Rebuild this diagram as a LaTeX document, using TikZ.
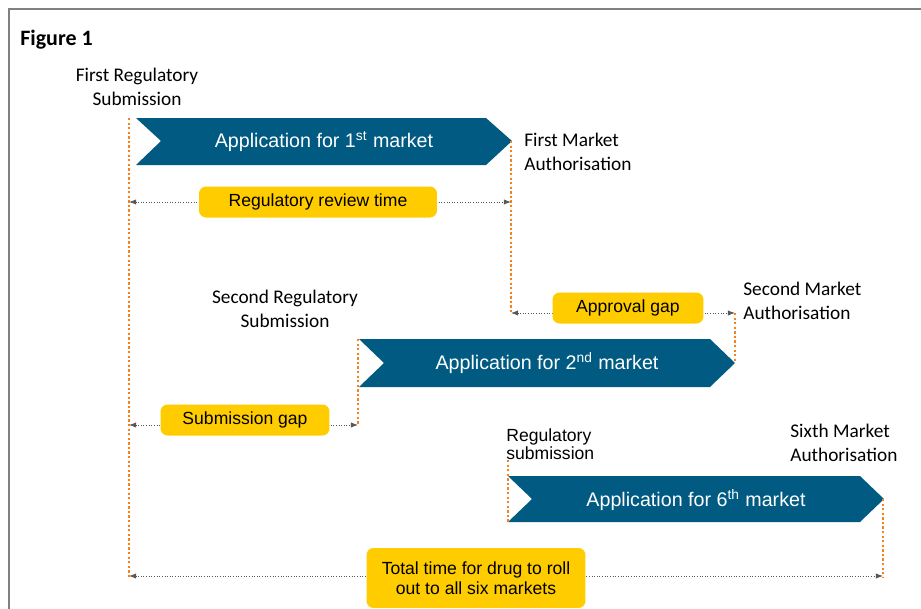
\documentclass[tikz,border=0pt]{standalone}
\usepackage{fontspec}
\setmainfont{Carlito}
\newfontfamily\arialfont{Liberation Sans}
\usetikzlibrary{arrows.meta}

\definecolor{appblue}{RGB}{0,90,130}
\definecolor{gapyellow}{RGB}{255,204,0}
\definecolor{markorange}{RGB}{245,130,30}

\begin{document}
\begin{tikzpicture}[x=0.02cm, y=-0.02cm]

    \tikzset{
        chevron/.style={fill=appblue, draw=none},
        apptext/.style={text=white, inner sep=0pt, font=\arialfont\fontsize{11.2}{14}\selectfont},
        gapbox/.style={
            fill=gapyellow,
            rounded corners=4pt,
            inner sep=0pt,
            align=center,
            font=\arialfont\fontsize{10}{11.5}\selectfont
        },
        milestone/.style={inner sep=0pt, font=\fontsize{11}{13.3}\selectfont},
        marker/.style={draw=markorange, line width=1.3pt, dash pattern=on 1.3pt off 1.3pt},
        spanline/.style={
            draw=black!65, densely dotted, line width=0.5pt,
            {Latex[length=4pt,width=3pt]}-{Latex[length=4pt,width=3pt]}
        }
    }

    \useasboundingbox (0,0) rectangle (921,609);

    % ramecek
    \draw[gray, line width=1.2pt] (9,609) -- (9,9) -- (921,9);
    \node[anchor=west, inner sep=0pt, font=\bfseries\fontsize{12.5}{14}\selectfont] (fig) at (20,40) {Figure 1};

    % body
    \coordinate (s1)  at (129,118);
    \coordinate (s1b) at (129,578);
    \coordinate (a1)  at (511,141);
    \coordinate (a1b) at (511,313);
    \coordinate (a2t) at (735,313);
    \coordinate (a2)  at (735,363);
    \coordinate (s2)  at (358,339);
    \coordinate (s2b) at (358,425);
    \coordinate (s6)  at (508,460);
    \coordinate (s6b) at (508,522);
    \coordinate (a6)  at (883,499);
    \coordinate (a6b) at (883,578);

    % sipky aplikaci
    \draw[chevron] (136,118) -- (486,118) -- (512,141) -- (486,165)
        -- (136,165) -- (161,141) -- cycle;
    \draw[chevron] (359,339) -- (710,339) -- (735,363) -- (710,387)
        -- (359,387) -- (384,363) -- cycle;
    \draw[chevron] (508,476) -- (860,476) -- (884,499) -- (860,522)
        -- (508,522) -- (532,499) -- cycle;

    \node[apptext] (app1) at (324,142) {Application for 1\textsuperscript{st} market};
    \node[apptext] (app2) at (547,363) {Application for 2\textsuperscript{nd} market};
    \node[apptext] (app6) at (696,500) {Application for 6\textsuperscript{th} market};

    % oranzove znacky
    \draw[marker] (s1) -- (s1b);
    \draw[marker] (a1) -- (a1b);
    \draw[marker] (a2t) -- (a2);
    \draw[marker] (s2) -- (s2b);
    \draw[marker] (s6) -- (s6b);
    \draw[marker] (a6) -- (a6b);

    % intervaly
    \draw[spanline] (129,202) -- (511,202);
    \draw[spanline] (a1b) -- (a2t);
    \draw[spanline] (129,425) -- (s2b);
    \draw[spanline] (129,576) -- (883,576);

    \node[gapbox, minimum width=4.76cm, minimum height=0.62cm] (review) at (318,202) {Regulatory review time};
    \node[gapbox, minimum width=3.02cm, minimum height=0.62cm] (approval) at (628,308) {Approval gap};
    \node[gapbox, minimum width=3.38cm, minimum height=0.62cm] (subgap) at (245,420) {Submission gap};
    \node[gapbox, minimum width=4.38cm, minimum height=1.2cm] (total) at (476,578) {Total time for drug to roll\\out to all six markets};

    % popisky
    \node[milestone, align=center] (firstsub) at (137,87) {First Regulatory\\Submission};
    \node[milestone, align=left, anchor=west] (firstauth) at (524,152) {First Market\\Authorisation};
    \node[milestone, align=center] (secondsub) at (285,309) {Second Regulatory\\Submission};
    \node[milestone, align=left, anchor=west] (secondauth) at (743,301) {Second Market\\Authorisation};
    \node[inner sep=0pt, align=left, anchor=west, font=\arialfont\fontsize{10}{10.5}\selectfont] (sixthsub) at (506,444) {Regulatory\\submission};
    \node[milestone, align=left, anchor=west] (sixthauth) at (790,443) {Sixth Market\\Authorisation};

\end{tikzpicture}
\end{document}
